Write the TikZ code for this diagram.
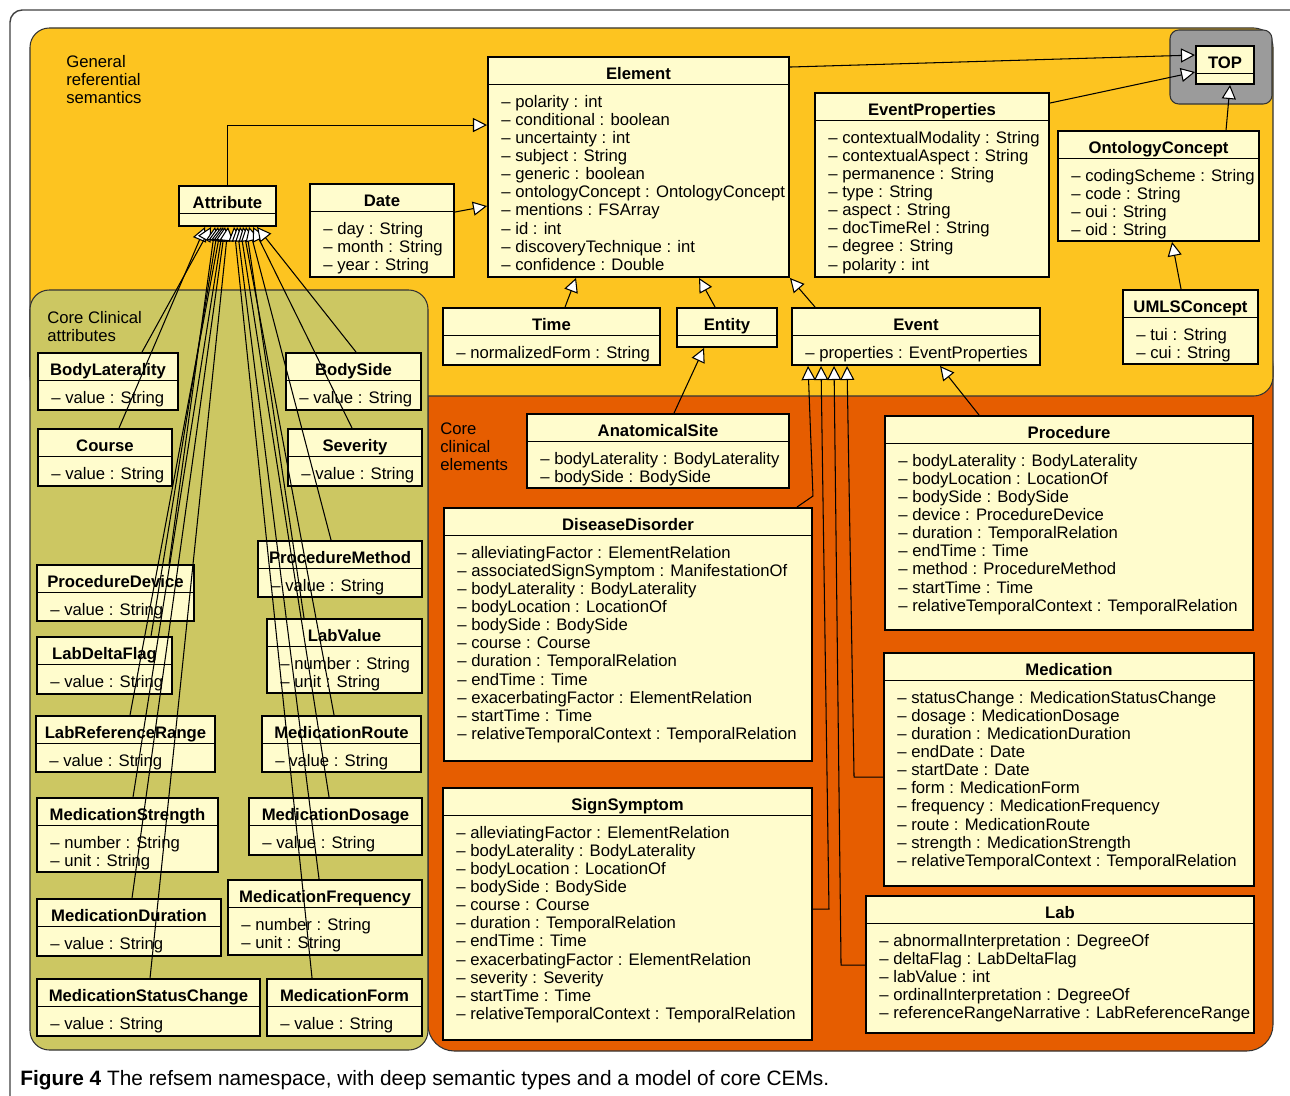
\documentclass[tikz,border=0pt]{standalone}
\usepackage{fontspec}
\setmainfont{Liberation Sans}
\usetikzlibrary{arrows.meta,calc,fit,positioning}

\definecolor{semyellow}{HTML}{FDC420}
\definecolor{attrolive}{HTML}{CCC762}
\definecolor{elemorange}{HTML}{E65D00}
\definecolor{boxfill}{HTML}{FFFCCD}
\definecolor{topgray}{HTML}{9B9B9B}

\tikzset{
  classbox/.style={draw, line width=1.1pt, fill=boxfill, inner sep=0pt},
  divider/.style={line width=0.7pt},
  titlefont/.style={font=\fontsize{9.5}{11}\selectfont\bfseries, inner sep=0pt},
  attrfont/.style={font=\fontsize{9.5}{11}\selectfont, inner sep=0pt},
  regionlabel/.style={font=\fontsize{9.5}{10.33}\selectfont, inner sep=0pt, align=left, anchor=north west},
  gen/.style={line width=0.6pt, -{Triangle[fill=white, length=8pt, width=8pt]}},
  region/.style={draw=black!80, line width=0.6pt},
}

% UML class: name, top left, bottom right, title, attributes
\newcommand{\umlclass}[5]{%
  \node[classbox, fit={(#2) (#3)}] (#1) {};
  \draw[divider] ($(#1.north west)+(0,28.5)$) -- ($(#1.north east)+(0,28.5)$);
  \node[titlefont, anchor=base] at ($(#1.north)+(0,23)$) {#4};
  \if\relax\detokenize{#5}\relax\else
    \foreach \a [count=\i] in {#5} {
      \node[attrfont, anchor=base west] at ($(#1.north west)+(14,{51+(\i-1)*18.15})$) {\textendash\ \ignorespaces\a};
    }
  \fi
}

\begin{document}
\begin{tikzpicture}[x=0.02cm, y=-0.02cm]
    \useasboundingbox (0,0) rectangle (1290,1095);

    % Regions
    \draw[draw=black!75, line width=0.8pt, rounded corners=7pt] (10,10) rectangle (1310,1115);
    \path[region, fill=elemorange, rounded corners=15pt] (428,340) rectangle (1273,1051);
    \path[region, fill=semyellow, rounded corners=11pt] (30,28) rectangle (1273,396);
    \path[region, fill=attrolive, rounded corners=11pt] (30,290) rectangle (428,1050);
    \path[region, fill=topgray, rounded corners=5pt] (1170,30) rectangle (1272,104);

    \node[regionlabel] (grs) at (66,55) {General\\referential\\semantics};
    \node[regionlabel] (cca) at (47,311) {Core Clinical\\attributes};
    \node[regionlabel] (cce) at (440,422) {Core\\clinical\\elements};

    % General referential semantics
    \umlclass{el}{488,57}{789,277}{Element}{polarity : int, conditional : boolean, uncertainty : int, subject : String, generic : boolean, ontologyConcept : OntologyConcept, mentions : FSArray, id : int, discoveryTechnique : int, confidence : Double}
    \umlclass{evp}{815,93}{1049,277}{EventProperties}{contextualModality : String, contextualAspect : String, permanence : String, type : String, aspect : String, docTimeRel : String, degree : String, polarity : int}
    \umlclass{top}{1196,46}{1254,84}{TOP}{}
    \umlclass{oc}{1058,131}{1259,241}{OntologyConcept}{codingScheme : String, code : String, oui : String, oid : String}
    \umlclass{umls}{1123,290}{1258,364}{UMLSConcept}{tui : String, cui : String}
    \umlclass{attr}{179,186}{276,226}{Attribute}{}
    \umlclass{date}{310,184}{454,277}{Date}{day : String, month : String, year : String}
    \umlclass{time}{443,308}{660,365}{Time}{normalizedForm : String}
    \umlclass{entity}{677,308}{777,347}{Entity}{}
    \umlclass{event}{792,308}{1040,365}{Event}{properties : EventProperties}

    % Core clinical elements
    \umlclass{anat}{527,414}{789,488}{AnatomicalSite}{bodyLaterality : BodyLaterality, bodySide : BodySide}
    \umlclass{proc}{885,416}{1253,630}{Procedure}{bodyLaterality : BodyLaterality, bodyLocation : LocationOf, bodySide : BodySide, device : ProcedureDevice, duration : TemporalRelation, endTime : Time, method : ProcedureMethod, startTime : Time, relativeTemporalContext : TemporalRelation}
    \umlclass{dd}{444,508}{812,761}{DiseaseDisorder}{alleviatingFactor : ElementRelation, associatedSignSymptom : ManifestationOf, bodyLaterality : BodyLaterality, bodyLocation : LocationOf, bodySide : BodySide, course : Course, duration : TemporalRelation, endTime : Time, exacerbatingFactor : ElementRelation, startTime : Time, relativeTemporalContext : TemporalRelation}
    \umlclass{ss}{443,788}{812,1040}{SignSymptom}{alleviatingFactor : ElementRelation, bodyLaterality : BodyLaterality, bodyLocation : LocationOf, bodySide : BodySide, course : Course, duration : TemporalRelation, endTime : Time, exacerbatingFactor : ElementRelation, severity : Severity, startTime : Time, relativeTemporalContext : TemporalRelation}
    \umlclass{med}{884,653}{1254,886}{Medication}{statusChange : MedicationStatusChange, dosage : MedicationDosage, duration : MedicationDuration, endDate : Date, startDate : Date, form : MedicationForm, frequency : MedicationFrequency, route : MedicationRoute, strength : MedicationStrength, relativeTemporalContext : TemporalRelation}
    \umlclass{lab}{866,896}{1254,1033}{Lab}{abnormalInterpretation : DegreeOf, deltaFlag : LabDeltaFlag, labValue : int, ordinalInterpretation : DegreeOf, referenceRangeNarrative : LabReferenceRange}

    % Core clinical attributes
    \umlclass{bl}{38,353}{178,410}{BodyLaterality}{value : String}
    \umlclass{bs}{286,353}{421,410}{BodySide}{value : String}
    \umlclass{course}{38,429}{172,486}{Course}{value : String}
    \umlclass{sev}{288,429}{422,486}{Severity}{value : String}
    \umlclass{pm}{258,541}{422,597}{ProcedureMethod}{value : String}
    \umlclass{pdev}{37,565}{194,621}{ProcedureDevice}{value : String}
    \umlclass{ldf}{37,637}{172,694}{LabDeltaFlag}{value : String}
    \umlclass{lv}{267,619}{422,693}{LabValue}{number : String, unit : String}
    \umlclass{lrr}{36,716}{215,772}{LabReferenceRange}{value : String}
    \umlclass{mroute}{262,716}{421,772}{MedicationRoute}{value : String}
    \umlclass{ms}{37,798}{218,872}{MedicationStrength}{number : String, unit : String}
    \umlclass{mdos}{249,798}{422,855}{MedicationDosage}{value : String}
    \umlclass{md}{37,899}{221,956}{MedicationDuration}{value : String}
    \umlclass{mfreq}{228,880}{422,955}{MedicationFrequency}{number : String, unit : String}
    \umlclass{msc}{37,979}{260,1036}{MedicationStatusChange}{value : String}
    \umlclass{mform}{267,979}{422,1036}{MedicationForm}{value : String}

    % Generalizations
    \draw[gen] (attr.north) |- ($(el.north west)+(0,69)$);
    \draw[gen] ($(date.north east)+(0,29)$) -- ($(el.north west)+(0,150)$);
    \draw[gen] ($(el.north east)+(0,11)$) -- ($(top.north west)+(0,10)$);
    \draw[gen] ($(evp.north east)+(0,11)$) -- ($(top.north west)+(0,27)$);
    \draw[gen] ($(oc.north west)+(169,0)$) -- ($(top.south west)+(35,0)$);
    \draw[gen] ($(umls.north west)+(59,0)$) -- ($(oc.south west)+(115,0)$);
    \draw[gen] ($(time.north west)+(123,0)$) -- ($(el.south west)+(89,0)$);
    \draw[gen] ($(entity.north west)+(39,0)$) -- ($(el.south west)+(212,0)$);
    \draw[gen] ($(event.north west)+(24,0)$) -- (el.south east);
    \draw[gen] ($(anat.north west)+(148,0)$) -- ($(entity.south west)+(28,0)$);
    \draw[gen] ($(proc.north west)+(95,0)$) -- ($(event.south west)+(149,0)$);
    \draw[gen] ($(dd.north east)+(-16,0)$) -- ($(dd.north east)+(0,-11)$) -- ($(event.south west)+(17,0)$);
    \draw[gen] ($(ss.north east)+(0,122)$) -- ++(16,0) -- ($(event.south west)+(30,0)$);
    \draw[gen] ($(lab.north west)+(0,70)$) -- ++(-24,0) -- ($(event.south west)+(43,0)$);
    \draw[gen] ($(med.north west)+(0,125)$) -- ++(-29,0) -- ($(event.south west)+(56,0)$);

    % Attribute fan
    \foreach \n/\bx/\ax in {course/82/27, bl/105/33, pdev/133/37, ldf/115/40, lrr/95/43, ms/97/45, md/96/47, msc/114/50,
                            mform/46/56, mfreq/92/59, mdos/81/62, mroute/73/65, lv/38/68, pm/74/71, sev/65/75, bs/71/79} {
      \draw[gen] ($(\n.north west)+(\bx,0)$) -- ($(attr.south west)+(\ax,0)$);
    }

    % Caption
    \node[anchor=base west, inner sep=0pt, font=\fontsize{11.85}{13}\selectfont] (caption) at (20,1085)
      {\textbf{Figure 4} The refsem namespace, with deep semantic types and a model of core CEMs.};
\end{tikzpicture}
\end{document}
